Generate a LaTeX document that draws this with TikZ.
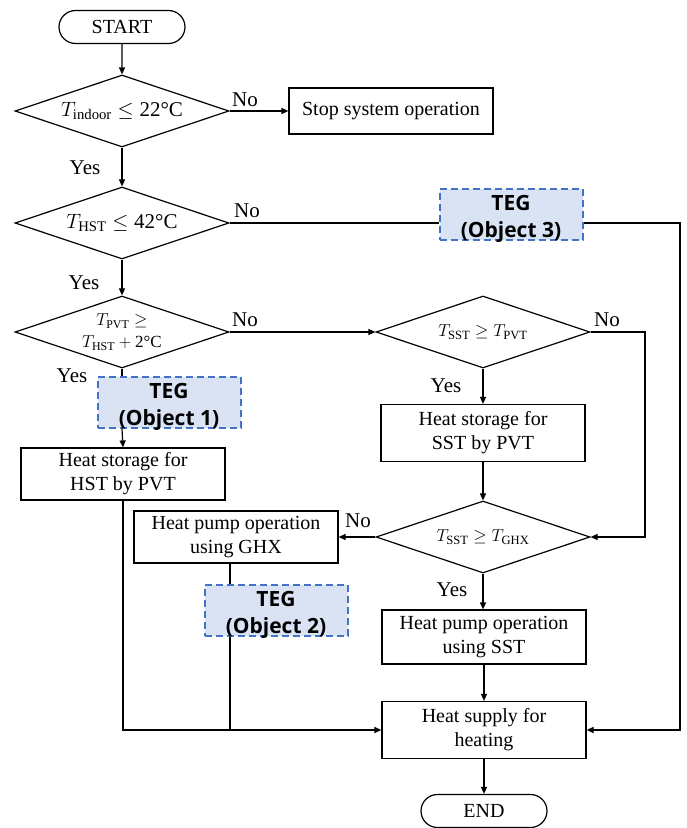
\documentclass[tikz,border=0pt]{standalone}
\usepackage{amsmath}
\usepackage{fontspec}
\setmainfont{Liberation Serif}
\newfontfamily\tegfont{Open Sans}
\usetikzlibrary{shapes.geometric,shapes.misc,arrows.meta}
\definecolor{tegblue}{HTML}{4472C4}
\definecolor{tegfill}{HTML}{DAE3F3}

\begin{document}
\begin{tikzpicture}[x=1pt, y=-1pt,
	every node/.style={font=\fontsize{20}{24}\selectfont},
	box/.style={draw, line width=1.2pt, minimum width=204pt, minimum height=52pt, align=center, inner sep=0pt},
	terminal/.style={rounded rectangle, draw, line width=1.2pt, minimum width=126pt, minimum height=33pt, inner sep=0pt},
	decision/.style={diamond, draw, line width=1.2pt, minimum width=214pt, minimum height=72pt, inner sep=0pt},
	teg/.style={draw=tegblue, fill=tegfill, line width=2pt, dash pattern=on 7pt off 4pt, minimum width=143pt, minimum height=51pt, inner sep=0pt},
	tegtext/.style={font=\tegfont\bfseries\fontsize{21}{27}\selectfont, align=center, yshift=-5pt},
	flow/.style={line width=1.2pt, -{Triangle[length=7pt,width=6pt]}},
	link/.style={line width=1.2pt},
	answer/.style={font=\fontsize{21}{22}\selectfont, inner sep=0pt}]
	
	\useasboundingbox (0,0) rectangle (686,828);
	
	% left column
	\node[terminal] (start) at (122,27) {START};
	\node[decision, label={[font=\fontsize{21}{24}\selectfont]center:{$T_{\mathrm{indoor}} \leq \text{22°C}$}}] (d1) at (122,111) {};
	\node[box, minimum height=46pt] (stop) at (391,111) {Stop system operation};
	\node[decision, label={[font=\fontsize{21}{24}\selectfont]center:{$T_{\mathrm{HST}} \leq \text{42°C}$}}] (d2) at (122,223) {};
	\node[decision, label={[align=center, font=\fontsize{17}{22}\selectfont]center:{$T_{\mathrm{PVT}} \geq$\\$T_{\mathrm{HST}} + \text{2°C}$}}] (d3) at (122,332) {};
	\node[teg, label={[tegtext]center:{TEG\\(Object 1)}}] (teg1) at (169,402) {};
	\node[box] (hst) at (123,474) {Heat storage for\\HST by PVT};
	
	% right column
	\node[teg, label={[tegtext]center:{TEG\\(Object 3)}}] (teg3) at (511,214) {};
	\node[decision, label={[font=\fontsize{18}{21}\selectfont]center:{$T_{\mathrm{SST}} \geq T_{\mathrm{PVT}}$}}] (d4) at (483,332) {};
	\node[box, minimum height=57pt] (sstbox) at (483,433) {Heat storage for\\SST by PVT};
	\node[decision, label={[font=\fontsize{18}{21}\selectfont]center:{$T_{\mathrm{SST}} \geq T_{\mathrm{GHX}}$}}] (d5) at (483,537) {};
	\node[box] (ghx) at (236,537) {Heat pump operation\\using GHX};
	\node[teg, label={[tegtext]center:{TEG\\(Object 2)}}] (teg2) at (276,610) {};
	\node[box, minimum height=54pt] (hpsst) at (484,637) {Heat pump operation\\using SST};
	\node[box, minimum height=57pt] (supply) at (484,730) {Heat supply for\\heating};
	\node[terminal] (end) at (484,811) {END};
	
	\coordinate (rgt) at (680,480);
	\coordinate (nr) at (645,430);
	\coordinate (j2) at (230,731);
	
	% answers
	\node[answer] (no1) at (245,100) {No};
	\node[answer] (yes1) at (85,168) {Yes};
	\node[answer] (no2) at (247,211) {No};
	\node[answer] (yes2) at (84,283) {Yes};
	\node[answer] (no3) at (245,320) {No};
	\node[answer] (yes3) at (72,376) {Yes};
	\node[answer] (no4) at (607,320) {No};
	\node[answer] (yes4) at (446,386) {Yes};
	\node[answer] (no5) at (358,521) {No};
	\node[answer] (yes5) at (452,590) {Yes};
	
	% connectors
	\draw[flow] (start) -- (d1);
	\draw[flow] (d1.east) -- (stop.west);
	\draw[flow] (d1.south) -- (d2.north);
	\draw[link] (d2.east) -- (d2.east -| teg3.west);
	\draw[flow] (teg3.east |- d2.east) -| (rgt) |- (supply.east);
	\draw[flow] (d2.south) -- (d3.north);
	\draw[flow] (d3.east) -- (d4.west);
	\draw[link] (d3.south) -- (d3.south |- teg1.north);
	\draw[flow] (d3.south |- teg1.south) -- (hst.north);
	\draw[flow] (hst.south) |- (supply.west);
	\draw[flow] (d4.south) -- (sstbox.north);
	\draw[flow] (d4.east) -| (nr) |- (d5.east);
	\draw[flow] (sstbox.south) -- (d5.north);
	\draw[flow] (d5.west) -- (ghx.east);
	\draw[link] (ghx.south -| j2) -- (teg2.north -| j2);
	\draw[link] (teg2.south -| j2) -- (j2);
	\draw[flow] (d5.south) -- (d5.south |- hpsst.north);
	\draw[flow] (hpsst) -- (supply);
	\draw[flow] (supply) -- (end);
\end{tikzpicture}
\end{document}
